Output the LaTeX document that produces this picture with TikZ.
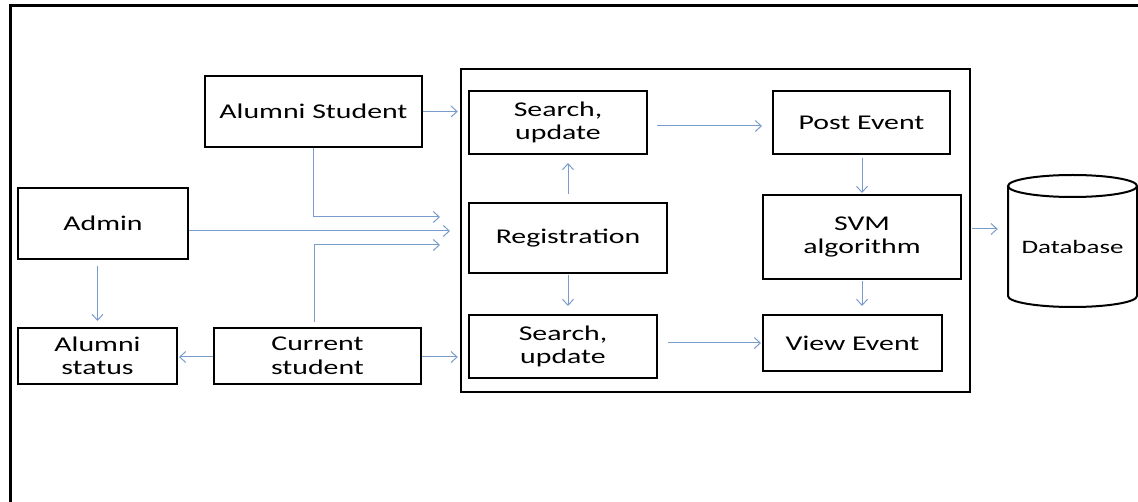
\documentclass[tikz,border=0pt]{standalone}
\usepackage{fontspec}
\setmainfont{Carlito}[FakeStretch=1.42]
\usetikzlibrary{arrows.meta}
\definecolor{arrowblue}{RGB}{122,156,205}
\tikzset{
  box/.style={draw, line width=2pt, inner sep=0pt, align=center, font=\fontsize{21}{23.5}\selectfont},
  arr/.style={draw=arrowblue, line width=1pt, -{Straight Barb[length=6pt,width=11pt]}},
}
\begin{document}
\begin{tikzpicture}[x=1pt,y=-1pt]
\useasboundingbox (0,0) rectangle (1138,502);
% outer frame (cut off at right and bottom)
\draw[line width=3pt] (10,505) -- (10,6) -- (1141,6);
% container
\node[box, line width=2.5pt, minimum width=509pt, minimum height=323pt] (cont) at (715.5,230.5) {};
% left nodes
\node[box, minimum width=217pt, minimum height=71pt] (alum) at (313.5,111.5) {Alumni Student};
\node[box, minimum width=170pt, minimum height=71pt] (admin) at (103,223.5) {Admin};
\node[box, minimum width=159pt, minimum height=56pt] (astat) at (97.5,356) {Alumni\\status};
\node[box, minimum width=207pt, minimum height=56pt] (cur) at (317.5,356) {Current\\student};
% inner nodes
\node[box, minimum width=178pt, minimum height=63pt] (s1) at (558,122.5) {Search,\\update};
\node[box, minimum width=177pt, minimum height=63pt] (post) at (861.5,122.5) {Post Event};
\node[box, minimum width=198pt, minimum height=70pt] (reg) at (568,238) {Registration};
\node[box, minimum width=188pt, minimum height=63pt] (s2) at (563,346.5) {Search,\\update};
\node[box, minimum width=198pt, minimum height=84pt] (svm) at (862,237) {SVM\\algorithm};
\node[box, minimum width=179pt, minimum height=56pt] (view) at (852.5,343) {View Event};
% database
\node[inner sep=0pt, minimum width=129pt, minimum height=120pt, font=\fontsize{19}{22}\selectfont] (db) at (1072.5,247) {Database};
\draw[line width=2pt] (1008,186) -- (1008,296) arc[start angle=180, end angle=0, x radius=64.5, y radius=11] -- (1137,186);
\draw[line width=2pt] (1072.5,186) ellipse[x radius=64.5, y radius=11];
% entry coordinates
\coordinate (inA) at (440,217);
\coordinate (inB) at (450,231);
\coordinate (inC) at (440,245);
\coordinate (curup) at (314,322);
% connectors
\draw[arr, shorten >=2pt] (alum.east) -- (alum.east -| cont.west);
\draw[arr] (alum.south) |- (inA);
\draw[arr] (admin.east |- inB) -- (inB);
\draw[arr] (curup) |- (inC);
\draw[arr, shorten >=1pt] ([yshift=-1pt]cur.west) -- ([yshift=-1pt]cur.west -| astat.east);
\draw[arr, shorten >=2pt] ([yshift=-1pt]cur.east) -- ([yshift=-1pt]cur.east -| cont.west);
\draw[arr, shorten <=6pt, shorten >=6pt] (astat.north |- admin.south) -- (astat.north);
\draw[arr, shorten <=8pt, shorten >=8pt] (reg.north) -- (reg.north |- s1.south);
\draw[arr, shorten <=1pt, shorten >=8pt] (reg.south) -- (reg.south |- s2.north);
\draw[arr, shorten <=9pt, shorten >=10pt] ([yshift=-3.5pt]s1.east) -- ([yshift=-3.5pt]s1.east -| post.west);
\draw[arr, shorten <=3pt, shorten >=1pt] (svm.north |- post.south) -- (svm.north);
\draw[arr, shorten <=1pt, shorten >=8pt] (svm.south) -- (svm.south |- view.north);
\draw[arr, shorten <=10pt, shorten >=1pt] (s2.east |- view.west) -- (view.west);
\draw[arr, shorten <=1pt] ([yshift=1.5pt]cont.east) -- ([xshift=-10pt,yshift=1.5pt]cont.east -| db.west);
\end{tikzpicture}
\end{document}
